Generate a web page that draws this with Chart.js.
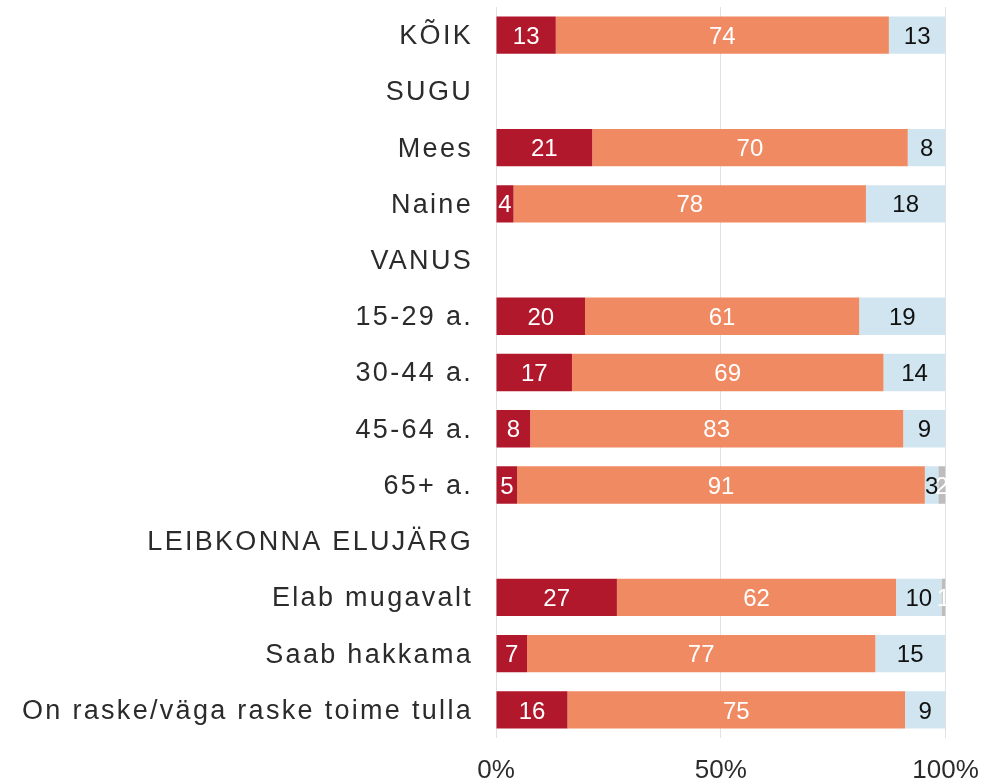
<!DOCTYPE html>
<html>
<head>
<meta charset="utf-8">
<script src="https://cdn.jsdelivr.net/npm/chart.js@4.4.1/dist/chart.umd.min.js"></script>
<style>
  html, body { margin: 0; padding: 0; background: #ffffff; overflow: hidden; }
  #wrap { position: relative; width: 984px; height: 784px; }
</style>
</head>
<body>
<div id="wrap"><canvas id="c"></canvas></div>
<script>
const categories = ['KÕIK', 'SUGU', 'Mees', 'Naine', 'VANUS', '15-29 a.', '30-44 a.', '45-64 a.', '65+ a.', 'LEIBKONNA ELUJÄRG', 'Elab mugavalt', 'Saab hakkama', 'On raske/väga raske toime tulla'];
const series1 = [13.3, null, 21.4, 3.9, null, 19.8, 16.9, 7.6, 4.7, null, 26.9, 6.9, 15.9];
const series2 = [74.1, null, 70.2, 78.4, null, 61.0, 69.3, 83.0, 90.7, null, 62.1, 77.49, 75.1];
const series3 = [12.6, null, 8.4, 17.7, null, 19.2, 13.8, 9.4, 3.0, null, 10.1, 15.49, 9.0];
const series4 = [0, null, 0, 0, null, 0, 0, 0, 1.6, null, 0.9, 0, 0];
const seriesNames = ['1', '2', '3', '4'];
const xTickValues = [0, 50, 100];

const FONT = "'Liberation Sans', Arial, Helvetica, sans-serif";
const barColors = ['#b2182b', '#ef8a62', '#d1e5f0', '#bdbdbd'];
const labelColors = ['#ffffff', '#ffffff', '#111111', '#ffffff'];

const valueLabels = {
  id: 'valueLabels',
  afterDatasetsDraw(chart) {
    const ctx = chart.ctx;
    ctx.save();
    ctx.font = '24px ' + FONT;
    ctx.textAlign = 'center';
    ctx.textBaseline = 'middle';
    chart.data.datasets.forEach((ds, i) => {
      const meta = chart.getDatasetMeta(i);
      meta.data.forEach((el, j) => {
        const v = ds.data[j];
        if (v == null || v <= 0) return;
        const cx = (el.x + el.base) / 2;
        ctx.fillStyle = labelColors[i];
        ctx.fillText(String(Math.round(v)), cx, el.y + 2);
      });
    });
    ctx.restore();
  }
};

const spacedLabels = {
  id: 'spacedLabels',
  beforeDraw(chart) {
    const y = chart.scales.y;
    if (y && !y._spaced) {
      const orig = y.drawLabels;
      y.drawLabels = function (ca) {
        const c = this.ctx;
        c.save();
        c.translate(0, 1.5);
        c.letterSpacing = '2.3px';
        orig.call(this, ca);
        c.restore();
      };
      y._spaced = true;
    }
  }
};

const datasets = [series1, series2, series3, series4].map((d, i) => ({
  label: seriesNames[i],
  data: d,
  backgroundColor: barColors[i],
  borderWidth: 0,
  barPercentage: 0.664,
  categoryPercentage: 1.0
}));

function noPad(s) {
  s.paddingTop = 0; s.paddingBottom = 0; s.paddingLeft = 0; s.paddingRight = 0;
}

new Chart(document.getElementById('c'), {
  type: 'bar',
  data: { labels: categories, datasets: datasets },
  plugins: [valueLabels, spacedLabels],
  options: {
    indexAxis: 'y',
    responsive: true,
    maintainAspectRatio: false,
    animation: false,
    layout: { padding: { top: 7, right: 38.5, bottom: 0, left: 0 } },
    plugins: {
      legend: { display: false },
      tooltip: { enabled: false }
    },
    scales: {
      x: {
        stacked: true,
        min: 0,
        max: 100,
        afterBuildTicks: (s) => { s.ticks = xTickValues.map(v => ({ value: v })); },
        afterFit: (s) => { s.height = 46; noPad(s); },
        grid: { color: '#e2e2e2', lineWidth: 1, drawTicks: false },
        border: { display: false },
        ticks: {
          padding: 20,
          color: '#2b2b2b',
          font: { family: FONT, size: 26, lineHeight: 1 },
          maxRotation: 0,
          callback: (v) => v + '%'
        }
      },
      y: {
        stacked: true,
        afterFit: (s) => { s.width = 496; noPad(s); },
        grid: { display: false, drawTicks: false },
        border: { display: false },
        ticks: {
          padding: 23,
          color: '#2b2b2b',
          font: { family: FONT, size: 27 },
          autoSkip: false
        }
      }
    }
  }
});
</script>
</body>
</html>
